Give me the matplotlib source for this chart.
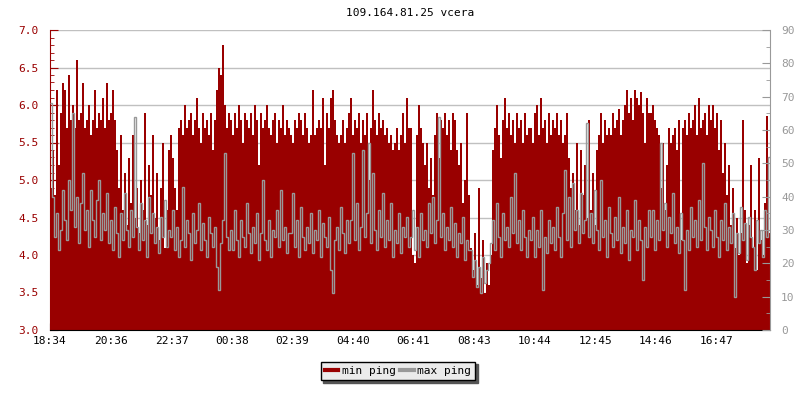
import numpy as np
import matplotlib
matplotlib.use('Agg')
import matplotlib.pyplot as plt
from matplotlib.ticker import MultipleLocator

# min ping (left axis, ms), one value per 4 minutes, 30 values per block
min_ping = [
    4.9, 5.4, 4.8, 6.2, 5.2, 5.9, 6.3, 6.2, 5.7, 6.4, 5.8, 6.0, 5.7, 6.6, 5.8, 5.9, 6.3, 5.7, 5.8, 6.0, 5.6, 5.8, 6.2, 5.7, 5.9, 5.8, 6.1, 5.7, 6.3, 5.8,
    5.9, 6.2, 5.8, 5.4, 4.9, 5.6, 4.6, 5.1, 4.4, 5.3, 4.7, 5.6, 4.5, 4.9, 4.3, 5.0, 4.6, 5.9, 4.4, 5.2, 4.8, 5.6, 4.5, 5.1, 4.2, 4.9, 5.5, 4.1, 4.6, 5.4,
    5.6, 5.3, 4.9, 4.6, 5.7, 5.8, 5.6, 6.0, 5.7, 5.8, 5.9, 5.6, 5.8, 6.1, 5.7, 5.5, 5.9, 5.7, 5.8, 5.6, 5.9, 5.4, 5.8, 6.2, 6.5, 6.4, 6.8, 6.0, 5.7, 5.9,
    5.8, 5.6, 5.9, 5.7, 6.0, 5.8, 5.5, 5.9, 5.8, 5.7, 5.9, 5.6, 6.0, 5.8, 5.2, 5.9, 5.7, 5.8, 6.0, 5.7, 5.6, 5.8, 5.9, 5.5, 5.8, 5.7, 6.0, 5.6, 5.8, 5.7,
    5.6, 5.5, 5.8, 5.7, 5.9, 5.8, 5.6, 5.9, 5.7, 5.5, 5.6, 6.2, 5.6, 5.7, 5.8, 5.7, 6.1, 5.2, 5.9, 5.7, 6.1, 6.2, 5.8, 5.6, 5.5, 5.6, 5.8, 5.5, 5.7, 5.9,
    6.1, 5.6, 5.8, 5.7, 5.9, 5.5, 5.8, 5.6, 5.9, 5.0, 5.7, 6.2, 5.8, 5.6, 5.9, 5.7, 5.8, 5.6, 5.7, 5.5, 5.6, 5.4, 5.5, 5.7, 5.4, 5.6, 5.9, 5.5, 6.1, 5.7,
    5.7, 4.0, 3.9, 5.6, 6.0, 5.7, 5.5, 5.2, 5.5, 4.9, 5.3, 4.8, 5.6, 5.9, 5.3, 5.8, 5.7, 5.9, 5.6, 5.8, 5.4, 5.9, 5.8, 5.4, 5.2, 5.5, 4.7, 5.0, 5.9, 4.8,
    4.1, 3.8, 4.3, 3.6, 4.9, 3.7, 4.2, 3.5, 3.9, 3.6, 4.0, 5.4, 5.7, 6.0, 5.6, 5.3, 5.8, 6.1, 5.7, 5.9, 5.6, 5.8, 5.5, 5.9, 5.7, 5.8, 5.5, 5.9, 5.6, 5.7,
    5.7, 5.5, 5.9, 6.0, 5.6, 6.1, 5.7, 5.8, 5.5, 5.9, 5.6, 5.8, 5.7, 5.9, 5.6, 5.8, 5.5, 5.6, 5.9, 5.3, 4.9, 5.1, 4.6, 5.5, 4.4, 5.4, 4.8, 5.2, 4.5, 5.8,
    4.6, 5.1, 4.4, 5.4, 5.6, 5.9, 5.5, 5.8, 5.6, 5.7, 5.6, 5.9, 5.7, 5.8, 5.95, 5.6, 5.8, 6.0, 6.2, 5.9, 6.1, 5.8, 6.2, 6.1, 6.0, 6.18, 5.9, 5.5, 6.1, 5.9,
    5.9, 6.0, 5.8, 5.7, 5.6, 4.9, 5.5, 4.6, 5.2, 5.7, 5.5, 5.6, 5.7, 5.4, 5.8, 4.2, 5.7, 5.8, 5.6, 5.9, 5.7, 5.8, 6.0, 5.6, 6.1, 5.7, 5.8, 5.9, 5.6, 6.0,
    5.8, 6.0, 5.7, 5.9, 5.4, 5.8, 5.1, 5.5, 4.8, 5.2, 4.4, 4.9, 4.1, 4.5, 4.0, 4.3, 5.8, 4.6, 3.9, 4.4, 5.2, 4.1, 4.6, 3.8, 5.3, 4.2, 4.0, 4.7, 5.85, 4.3,
]

# max ping (right axis, ms)
max_ping = [
    68, 40, 28, 35, 24, 30, 42, 33, 27, 45, 36, 65, 31, 40, 26, 38, 47, 30, 36, 25, 42, 33, 28, 39, 45, 27, 35, 30, 41, 26,
    33, 24, 37, 29, 22, 35, 27, 41, 30, 25, 36, 28, 64, 31, 24, 38, 27, 33, 22, 40, 29, 35, 26, 31, 23, 34, 28, 39, 25, 30,
    28, 36, 24, 31, 22, 27, 43, 25, 33, 29, 21, 35, 26, 30, 38, 24, 32, 27, 22, 34, 29, 25, 31, 19, 12, 26, 33, 53, 28, 24,
    30, 24, 36, 27, 22, 33, 28, 25, 38, 29, 23, 31, 26, 35, 21, 29, 45, 27, 24, 33, 22, 30, 28, 36, 25, 42, 27, 31, 23, 29,
    29, 41, 25, 33, 22, 37, 28, 24, 31, 26, 35, 23, 30, 27, 36, 22, 32, 28, 25, 34, 18, 11, 27, 31, 24, 37, 29, 23, 33, 26,
    33, 53, 27, 38, 24, 31, 54, 28, 35, 56, 26, 47, 30, 24, 36, 28, 41, 25, 33, 27, 38, 22, 30, 26, 35, 23, 31, 28, 34, 25,
    28, 36, 24, 31, 22, 35, 27, 30, 25, 38, 29, 40, 26, 33, 64, 28, 35, 24, 31, 27, 37, 25, 32, 22, 29, 26, 34, 21, 27, 24,
    24, 16, 21, 13, 19, 11, 22, 14, 18, 20, 26, 33, 24, 38, 28, 22, 35, 27, 31, 25, 40, 29, 47, 26, 33, 24, 36, 28, 22, 30,
    27, 34, 22, 30, 25, 36, 12, 28, 23, 33, 26, 31, 24, 37, 28, 22, 35, 48, 27, 40, 25, 44, 30, 36, 26, 41, 29, 33, 62, 28,
    35, 26, 42, 30, 24, 45, 28, 33, 22, 37, 29, 25, 34, 27, 40, 23, 31, 26, 36, 21, 30, 28, 39, 24, 33, 27, 15, 31, 25, 36,
    28, 36, 24, 33, 27, 56, 30, 38, 25, 34, 29, 41, 26, 31, 23, 35, 27, 12, 30, 24, 37, 28, 33, 25, 39, 27, 50, 31, 24, 34,
    30, 25, 36, 28, 22, 33, 27, 38, 24, 31, 26, 35, 10, 29, 23, 37, 27, 32, 21, 34, 28, 25, 18, 33, 26, 30, 22, 36, 28, 52,
]

tick_labels = ['18:34', '20:36', '22:37', '00:38', '02:39', '04:40',
               '06:41', '08:43', '10:44', '12:45', '14:46', '16:47']
step_min = 4

RED = '#990000'
GRAY = '#999999'
plt.rcParams['font.family'] = ['DejaVu Sans Mono']

edges = np.arange(len(min_ping) + 1) * step_min

def minutes_from_start(lbl):
    h, m = map(int, lbl.split(':'))
    return (h * 60 + m - (18 * 60 + 34)) % 1440

fig = plt.figure(figsize=(8, 4), dpi=100)
ax = fig.add_axes([0.0625, 0.175, 0.9, 0.75])
ax2 = ax.twinx()

ax.stairs(min_ping, edges, baseline=3.0, fill=True, color=RED, lw=0, label='min ping')
ax2.stairs(max_ping, edges, baseline=None, color=GRAY, lw=1, label='max ping')

ax.set_xlim(0, edges[-1])
ax.set_ylim(3.0, 7.0)
ax2.set_ylim(0, 90)

ax.set_axisbelow(True)
ax.yaxis.grid(True, color='#c0c0c0', lw=1)
ax.yaxis.set_major_locator(MultipleLocator(0.5))
ax.yaxis.set_minor_locator(MultipleLocator(0.1))
ax.yaxis.set_major_formatter('{x:.1f}')
ax2.yaxis.set_major_locator(MultipleLocator(10))
ax2.yaxis.set_minor_locator(MultipleLocator(5))

ax.set_xticks([minutes_from_start(l) for l in tick_labels])
ax.set_xticklabels(tick_labels)

for a in (ax, ax2):
    for s in a.spines.values():
        s.set_visible(False)
ax.spines['left'].set_visible(True)
ax.spines['left'].set_color(RED)
ax.spines['bottom'].set_visible(True)
ax.spines['bottom'].set_color('black')
ax2.spines['right'].set_visible(True)
ax2.spines['right'].set_color(GRAY)

ax.tick_params(axis='y', which='major', direction='in', length=6, color=RED,
               labelcolor=RED, labelsize=8, pad=8)
ax.tick_params(axis='y', which='minor', direction='in', length=3, color=RED)
ax.tick_params(axis='x', direction='in', length=5, color='black', labelsize=8, pad=4)
ax2.tick_params(axis='y', which='major', direction='in', length=6, color=GRAY,
                labelcolor=GRAY, labelsize=8, pad=8)
ax2.tick_params(axis='y', which='minor', direction='in', length=3, color=GRAY)

fig.text(0.5125, 0.967, '109.164.81.25 vcera', ha='center', va='center', fontsize=8)

h1, l1 = ax.get_legend_handles_labels()
h2, l2 = ax2.get_legend_handles_labels()
from matplotlib.lines import Line2D
handles = [Line2D([], [], color=RED, lw=3), Line2D([], [], color=GRAY, lw=3)]
leg = fig.legend(handles, ['min ping', 'max ping'], loc='center', bbox_to_anchor=(0.4975, 0.0725),
                 ncol=2, fontsize=8, frameon=True, fancybox=False, shadow={'color': '#555555', 'alpha': 1},
                 handlelength=1.2, handletextpad=0.3, columnspacing=0.4, borderpad=0.4)
leg.get_frame().set_facecolor('#ebebeb')
leg.get_frame().set_edgecolor('black')
leg.get_frame().set_alpha(1)

fig.savefig('out.png', dpi=100)
